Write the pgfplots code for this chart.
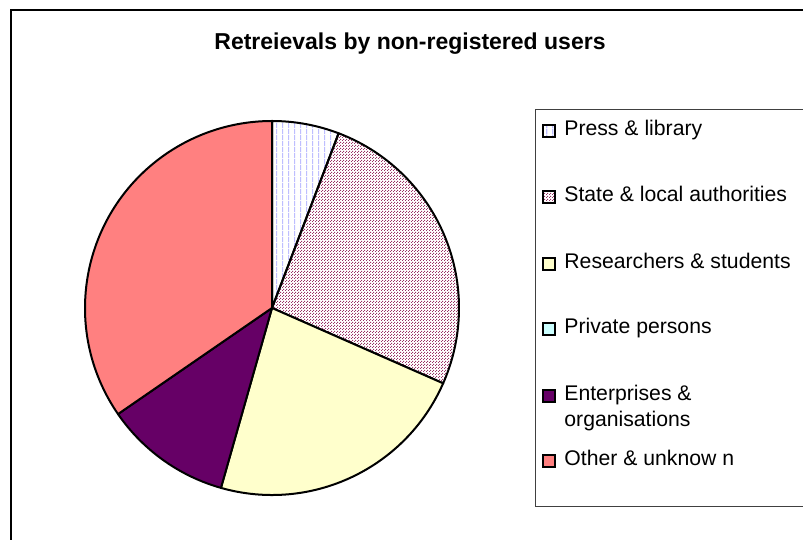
\documentclass[border=0pt]{standalone}
\usepackage{pgfplots}
\pgfplotsset{compat=1.18}
\usepackage{pgfplotstable}
\usetikzlibrary{patterns}
\usepackage{fontspec}
\setmainfont{Liberation Sans}
\newfontfamily\legfont{Liberation Sans}

\definecolor{stripe}{RGB}{190,190,255}
\definecolor{dotc}{RGB}{153,51,102}
\definecolor{yel}{RGB}{255,255,204}
\definecolor{cyanl}{RGB}{204,255,255}
\definecolor{purp}{RGB}{102,0,102}
\definecolor{salm}{RGB}{255,128,128}

\pgfdeclarepatternformonly{vstripes}{\pgfpoint{-1pt}{-1pt}}{\pgfpoint{2pt}{2pt}}{\pgfpoint{3pt}{3pt}}{
  \pgfsetlinewidth{0.6pt}
  \pgfpathmoveto{\pgfpoint{0.5pt}{-1pt}}
  \pgfpathlineto{\pgfpoint{0.5pt}{2pt}}
  \pgfusepath{stroke}}
\pgfdeclarepatternformonly{finedots}{\pgfpointorigin}{\pgfpoint{1.5pt}{1.5pt}}{\pgfpoint{1.5pt}{1.5pt}}{
  \pgfpathrectangle{\pgfpointorigin}{\pgfpoint{0.6pt}{0.6pt}}
  \pgfpathrectangle{\pgfpoint{0.75pt}{0.75pt}}{\pgfpoint{0.6pt}{0.6pt}}
  \pgfusepath{fill}}

% share of each user group (percent), clockwise from 12 o'clock
\pgfplotstableread{
id value
0 5.8
1 25.8
2 22.8
3 0
4 11.0
5 34.6
}\piedata

\tikzset{
 s0/.style={pattern=vstripes, pattern color=stripe},
 s1/.style={pattern=finedots, pattern color=dotc},
 s2/.style={fill=yel},
 s3/.style={fill=cyanl},
 s4/.style={fill=purp},
 s5/.style={fill=salm},
}

\begin{document}
\begin{tikzpicture}
\useasboundingbox (0,0) rectangle (401.5pt,270pt);
\fill[white] (0,0) rectangle (401.5pt,270pt);
\begin{axis}[hide axis, clip=false, x=93.5pt, y=93.5pt,
  xmin=-1, xmax=1, ymin=-1, ymax=1,
  anchor=center, at={(136pt,116pt)}]
\pgfplotsextra{
  \pgfplotstablegetrowsof{\piedata}
  \pgfmathtruncatemacro\nrows{\pgfplotsretval-1}
  \gdef\cum{0}
  \foreach \i in {0,...,\nrows}{
    \pgfplotstablegetelem{\i}{value}\of\piedata
    \let\v\pgfplotsretval
    \pgfmathsetmacro\aa{90-3.6*\cum}
    \pgfmathsetmacro\ab{90-3.6*(\cum+\v)}
    \pgfmathtruncatemacro\pos{\v>0}
    \ifnum\pos=1
      \filldraw[s\i, draw=black, line width=1pt, line join=round]
        (axis cs:0,0) -- ++(\aa:93.5pt) arc[start angle=\aa, end angle=\ab, radius=93.5pt] -- cycle;
    \fi
    \pgfmathsetmacro\newcum{\cum+\v}
    \xdef\cum{\newcum}
  }
}
\end{axis}

\begin{scope}[x=0.5pt, y=-0.5pt, yshift=270pt]
  % outer frame
  \draw[line width=1pt] (11,600) -- (11,10) -- (900,10);
  % title
  \node[anchor=base, inner sep=0, font=\bfseries\fontsize{11.5}{13}\selectfont] at (410,50) {Retreievals by non-registered users};
  % legend box
  \draw[line width=0.5pt, black!75] (900,110) -- (535,110) -- (535,507) -- (900,507);
  \foreach \b/\s/\t in {136/0/{Press \& library}, 202/1/{State \& local authorities}, 269/2/{Researchers \& students}, 334/3/{Private persons}, 401/4/{Enterprises \&}, 466/5/{Other \& unknow n}}{
    \filldraw[s\s, draw=black, line width=0.6pt] (543,\b-11) rectangle (555,\b+1);
    \node[anchor=base west, inner sep=0, font=\legfont\fontsize{10.6}{12}\selectfont] at (564,\b) {\t};
  }
  \node[anchor=base west, inner sep=0, font=\legfont\fontsize{10.6}{12}\selectfont] at (564,427) {organisations};
\end{scope}
\end{tikzpicture}
\end{document}
